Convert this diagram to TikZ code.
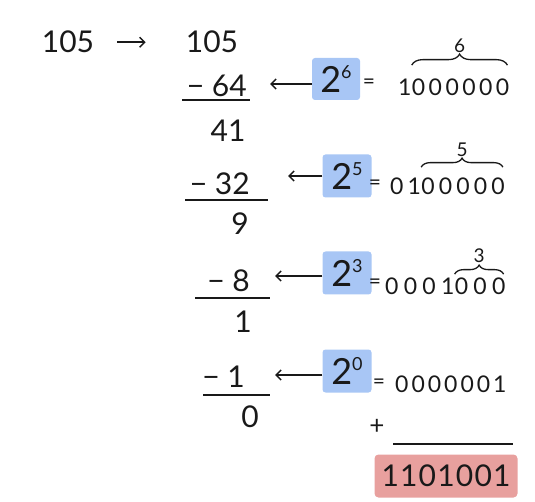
\documentclass[tikz,border=0pt]{standalone}
\usepackage{fontspec}
\setmainfont{Lato}
\newfontfamily\binfont{Lato}
\usetikzlibrary{arrows.meta,decorations.pathreplacing}
\definecolor{ink}{RGB}{25,25,25}
\definecolor{powblue}{RGB}{168,198,245}
\definecolor{resred}{RGB}{232,160,158}
\begin{document}
\begin{tikzpicture}[x=1pt,y=-1pt,
  num/.style={font=\fontsize{30}{30}\selectfont, text=ink, inner sep=0pt},
  bin/.style={font=\binfont\fontsize{23}{23}\selectfont, text=ink, inner sep=0pt, anchor=base west},
  pow/.style={fill=powblue, rounded corners=3pt, minimum width=49pt, minimum height=43pt, inner sep=0pt, text=ink, font=\fontsize{36}{36}\selectfont},
  arr/.style={draw=ink, line width=1.5pt, -{Straight Barb[length=5pt,width=10pt]}},
  uline/.style={draw=ink, line width=1.8pt},
  brace/.style={draw=ink, line width=1.3pt, decorate, decoration={brace, amplitude=#1}},
  brace/.default=9pt,
  lbl/.style={font=\fontsize{19}{19}\selectfont, text=ink, inner sep=0pt},
  eq/.style={font=\fontsize{21}{21}\selectfont, text=ink, inner sep=0pt}]
\useasboundingbox (0,0) rectangle (535,502);
% top line
\node[num, anchor=base] (na) at (68,53) {105};
\node[num, anchor=base] (nb) at (212,53) {105};
\draw[arr, shorten <=23pt, shorten >=40pt] (na.east) -- (nb.west);
% subtractions
\node[num, anchor=base east] (s6) at (247,97) {− 64};
\draw[uline] (182,100) -- (250,100);
\node[num, anchor=base] (r41) at (228,142) {41};
\node[num, anchor=base east] (s5) at (250,195) {− 32};
\draw[uline] (185,200) -- (268,200);
\node[num, anchor=base] (r9) at (240,235) {9};
\node[num, anchor=base east] (s3) at (250,292) {− 8};
\draw[uline] (195,298) -- (270,298);
\node[num, anchor=base] (r1) at (243,332) {1};
\node[num, anchor=base east] (s0) at (245,387) {− 1};
\draw[uline] (203,395) -- (270,395);
\node[num, anchor=base] (r0) at (250,427) {0};
% powers
\node[pow, minimum width=48pt, minimum height=42pt] (p6) at (336,79) {2\raisebox{14pt}{\fontsize{18}{18}\selectfont 6}};
\node[pow] (p5) at (347,176) {2\raisebox{14pt}{\fontsize{18}{18}\selectfont 5}};
\node[pow] (p3) at (347,273) {2\raisebox{14pt}{\fontsize{18}{18}\selectfont 3}};
\node[pow] (p0) at (347,371) {2\raisebox{14pt}{\fontsize{18}{18}\selectfont 0}};
\draw[arr, shorten >=23pt] ([yshift=-5pt]p6.west) -- ([yshift=-5pt]p6.west -| s6.east);
\draw[arr, shorten >=38pt] (p5.west) -- (p5.west -| s5.east);
\draw[arr, shorten >=25pt] ([yshift=-3pt]p3.west) -- ([yshift=-3pt]p3.west -| s3.east);
\draw[arr, shorten >=30pt] ([yshift=-4pt]p0.west) -- ([yshift=-4pt]p0.west -| s0.east);
% equals
\node[eq] (e6) at (369,84) {=};
\node[eq] (e5) at (375,185) {=};
\node[eq] (e3) at (375,284) {=};
\node[eq] (e0) at (379,384) {=};
% binary values
\node[bin] (b6) at (398,96) {\addfontfeature{LetterSpace=15}1};
\node[bin] (z6) at (b6.base east) {\addfontfeature{LetterSpace=15}000000};
\draw[brace=11pt] ([yshift=14pt]z6.north west) -- ([yshift=14pt,xshift=-2pt]z6.north east) node[lbl, midway, above=12pt] (l6) {6};
\node[bin] (b5) at (390,195) {\addfontfeature{LetterSpace=18}01};
\node[bin] (z5) at (b5.base east) {\addfontfeature{LetterSpace=18}00000};
\draw[brace=9pt] ([yshift=11pt]z5.north west) -- ([yshift=11pt,xshift=-2pt]z5.north east) node[lbl, midway, above=10pt] (l5) {5};
\node[bin] (b3) at (385,295) {\addfontfeature{LetterSpace=23}0001};
\node[bin] (z3) at (b3.base east) {\addfontfeature{LetterSpace=23}000};
\draw[brace=9pt] ([yshift=4pt]z3.north west) -- ([yshift=4pt,xshift=-2pt]z3.north east) node[lbl, midway, above=11pt] (l3) {3};
\node[bin] (b0) at (395,392) {\addfontfeature{LetterSpace=13}0000001};
% sum
\node[font=\fontsize{26}{26}\selectfont, text=ink, inner sep=0pt] (plus) at (377,427) {+};
\coordinate (sl) at (393,444);
\coordinate (sr) at (513,444);
\draw[uline, line width=1.5pt] (sl) -- (sr);
\node[fill=resred, rounded corners=4pt, minimum width=143pt, minimum height=43pt, inner sep=0pt, text=ink, font=\fontsize{30}{30}\selectfont] (res) at (446,476) {\addfontfeature{LetterSpace=4}1101001};
\end{tikzpicture}
\end{document}
